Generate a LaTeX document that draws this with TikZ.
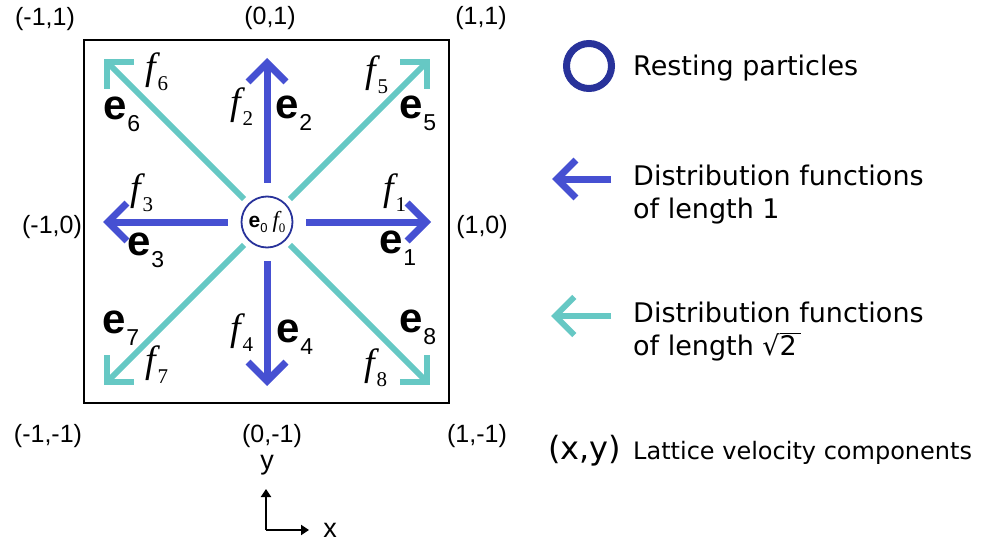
\documentclass[tikz,border=0pt]{standalone}
\usepackage{fontspec}
\setmainfont{DejaVu Sans}
\newfontfamily\arialfont{Liberation Sans}
\newfontfamily\timesfont{Liberation Serif}
\usetikzlibrary {arrows.meta}
\usepackage{xcolor}
\definecolor{latblue}{HTML}{4650D2}
\definecolor{latcyan}{HTML}{66C8C4}
\definecolor{latnavy}{HTML}{28329A}

\newcommand\evec[1]{{\bfseries e}\raisebox{-12pt}{\mdseries\fontsize{23}{23}\selectfont #1}}
\newcommand\fdist[1]{{\itshape f}\kern1pt\raisebox{-11pt}{\upshape\fontsize{21}{21}\selectfont #1}}

\begin{document}
\begin{tikzpicture}[x=1pt,y=-1pt,
    unit/.style={line width=7pt, draw=latblue,
        -{Straight Barb[length=19pt,width=38pt]}},   % lattice links of length 1
    diag/.style={line width=6pt, draw=latcyan,
        -{Straight Barb[length=19pt,width=38pt]}},   % lattice links of length sqrt 2
    elab/.style={font=\arialfont\fontsize{42}{44}\selectfont, inner sep=0pt},
    flab/.style={font=\timesfont\fontsize{38}{40}\selectfont, inner sep=0pt},
    corner/.style={font=\arialfont\fontsize{25}{28}\selectfont, inner sep=0pt},
    legend/.style={font=\fontsize{27}{33}\selectfont, anchor=base west, align=left, inner sep=0pt}
]
\useasboundingbox (0,0) rectangle (981,548);

% lattice cell
\draw[line width=2pt] (84,40) rectangle (449,403);

\node[circle, draw=latnavy, line width=1.8pt, minimum size=51pt, inner sep=0pt] (rest) at (267,222)
    {\arialfont\fontsize{21}{22}\selectfont{\bfseries e}\raisebox{-5pt}{\fontsize{13}{13}\selectfont 0}\kern5pt%
     \timesfont\fontsize{23}{24}\selectfont\itshape f\raisebox{-5pt}{\upshape\fontsize{13}{13}\selectfont 0}};

% arrow tips
\coordinate (t1) at (431,222);
\coordinate (t2) at (267,58);
\coordinate (t3) at (103,222);
\coordinate (t4) at (267,386);
\coordinate (t5) at (430,59);
\coordinate (t6) at (104,59);
\coordinate (t7) at (104,385);
\coordinate (t8) at (430,385);

\foreach \k in {1,...,4}
    \draw[unit, shorten <=13pt] (rest) -- (t\k);
\foreach \k in {5,...,8}
    \draw[diag, shorten <=6pt] (rest) -- (t\k);

% labels
\node[elab] (e1) at (398,248) {\evec{1}};
\node[elab] (e2) at (294,113) {\evec{2}};
\node[elab] (e3) at (146,250) {\evec{3}};
\node[elab] (e4) at (295,337) {\evec{4}};
\node[elab] (e5) at (418,113) {\evec{5}};
\node[elab] (e6) at (122,114) {\evec{6}};
\node[elab] (e7) at (121,328) {\evec{7}};
\node[elab] (e8) at (418,327) {\evec{8}};

\node[flab] (f1) at (395,193) {\fdist{1}};
\node[flab] (f2) at (242,107) {\fdist{2}};
\node[flab] (f3) at (142,193) {\fdist{3}};
\node[flab] (f4) at (242,333) {\fdist{4}};
\node[flab] (f5) at (377,75) {\fdist{5}};
\node[flab] (f6) at (157,72) {\fdist{6}};
\node[flab] (f7) at (157,365) {\fdist{7}};
\node[flab] (f8) at (376,368) {\fdist{8}};

\node[corner] (cnw) at (45,19) {(-1,1)};
\node[corner] (cn) at (270,18) {(0,1)};
\node[corner] (cne) at (481,18) {(1,1)};
\node[corner] (cw) at (52,227) {(-1,0)};
\node[corner] (ce) at (482,227) {(1,0)};
\node[corner] (csw) at (48,436) {(-1,-1)};
\node[corner] (cs) at (272,436) {(0,-1)};
\node[corner] (cse) at (477,436) {(1,-1)};

% legend
\node[circle, draw=latnavy, line width=7pt, minimum size=45pt, inner sep=0pt] (restkey) at (589,66) {};
\node[legend] (restlab) at (633,76) {Resting particles};

\coordinate (unittail) at (611,179);
\coordinate (unittip) at (552,179);
\draw[unit] (unittail) -- (unittip);
\node[legend] (unitlab) at (633,218) {Distribution functions\\of length 1};

\coordinate (diagtail) at (611,316);
\coordinate (diagtip) at (551,316);
\draw[diag] (diagtail) -- (diagtip);
\node[legend] (diaglab) at (633,355) {Distribution functions\\of length √$\overline{\mbox{2\,}}$};

\node[legend, font=\fontsize{32}{33}\selectfont] (xykey) at (548,459) {(x,y)};
\node[legend, font=\fontsize{24}{26}\selectfont] (xylab) at (633,459) {Lattice velocity components};

% axes
\coordinate (orig) at (266,530);
\coordinate (ytip) at (266,489);
\coordinate (xtip) at (309,530);
\draw[line width=2pt, -{Triangle[length=8pt,width=10pt]}] (orig) -- (ytip);
\draw[line width=2pt, -{Triangle[length=8pt,width=10pt]}] (orig) -- (xtip);
\node[corner, font=\arialfont\fontsize{27}{28}\selectfont] (ylab) at (267,465) {y};
\node[corner, font=\arialfont\fontsize{27}{28}\selectfont] (xlab) at (330,530) {x};
\end{tikzpicture}
\end{document}
